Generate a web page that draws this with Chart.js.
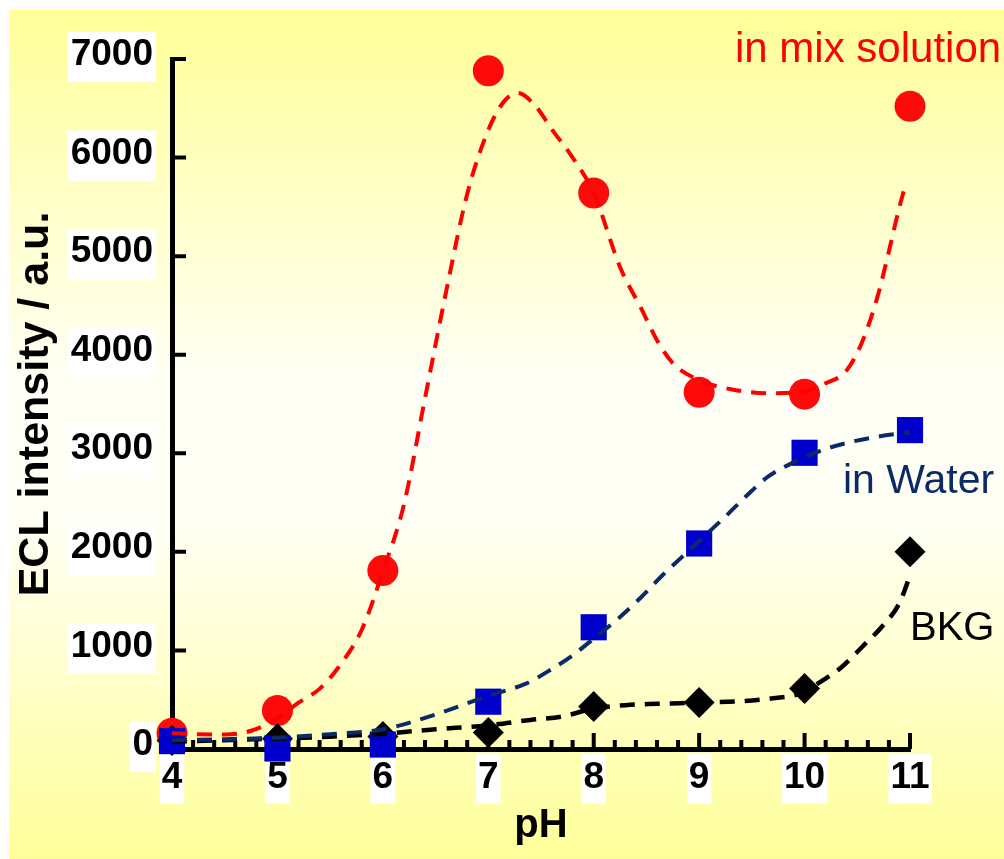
<!DOCTYPE html>
<html lang="en">
<head>
    <meta charset="UTF-8">
    <title>ECL intensity vs pH</title>
    <script src="https://cdn.jsdelivr.net/npm/chart.js"></script>
    <style>
        html, body {
            margin: 0;
            padding: 0;
            background: #ffffff;
        }
        .wrap {
            position: relative;
            width: 1004px;
            height: 859px;
        }
    </style>
</head>
<body>
    <div class="wrap"><canvas id="chart"></canvas></div>

    <script>
        // Measured points (ECL intensity, a.u.) at each pH
        const phValues = [4, 5, 6, 7, 8, 9, 10, 11];
        const mixValues = [160, 390, 1810, 6880, 5640, 3620, 3600, 6520];
        const waterValues = [80, 5, 45, 480, 1235, 2085, 3005, 3235];
        const bkgValues = [85, 105, 127, 167, 431, 472, 614, 2000];

        // Dashed fit curves
        const mixFitPh = [4.0, 4.25, 4.5, 4.75, 5.0, 5.2, 5.4, 5.6, 5.8, 6.0, 6.2, 6.4, 6.6, 6.8, 7.0, 7.15, 7.28, 7.45, 7.6, 7.8,
                          8.0, 8.25, 8.45, 8.6, 8.75, 9.0, 9.3, 9.65, 9.95, 10.2, 10.4, 10.55, 10.7, 10.8, 10.9, 10.96];
        const mixFitValues = [160, 150, 148, 185, 310, 470, 610, 860, 1210, 1800, 2480, 3560, 4640, 5630, 6280, 6570, 6655, 6520, 6290, 6000,
                              5640, 4888, 4470, 4147, 3914, 3741, 3650, 3609, 3619, 3711, 3843, 4140, 4620, 5050, 5500, 5731];

        const waterFitPh = [4.0, 4.5, 5.0, 5.5, 6.0, 6.5, 7.0, 7.35, 7.6, 7.8, 8.0, 8.25, 8.45, 8.65, 8.95, 9.25, 9.45, 9.65, 9.9, 10.15, 10.4, 10.7, 11.0];
        const waterFitValues = [90, 100, 115, 150, 200, 350, 540, 660, 810, 950, 1120, 1340, 1540, 1760, 2060, 2360, 2570, 2760, 2910, 3025, 3105, 3170, 3213];

        const bkgFitPh = [4.0, 4.5, 5.0, 5.5, 6.0, 6.5, 7.0, 7.4, 7.7, 8.0, 8.3, 8.6, 9.0, 9.4, 9.7, 9.95, 10.15, 10.35, 10.55, 10.75, 10.9, 11.0];
        const bkgFitValues = [75, 90, 105, 125, 155, 200, 240, 295, 330, 410, 445, 458, 470, 485, 515, 560, 680, 830, 1040, 1260, 1480, 1760];

        const FONT = '"Liberation Sans", Arial, Helvetica, sans-serif';

        function toPoints(xs, ys) {
            return xs.map((x, i) => ({ x: x, y: ys[i] }));
        }

        // yellow -> white -> yellow page background
        const paperBg = {
            id: 'paperBg',
            beforeDraw(chart) {
                const { ctx, width, height } = chart;
                ctx.save();
                ctx.fillStyle = '#ffffff';
                ctx.fillRect(0, 0, width, height);
                const g = ctx.createLinearGradient(0, 10, 0, height);
                g.addColorStop(0, '#ffff99');
                g.addColorStop(0.44, '#fffff6');
                g.addColorStop(0.6, '#fffff6');
                g.addColorStop(1, '#ffff99');
                ctx.fillStyle = g;
                ctx.fillRect(9, 10, width - 9, height - 10);
                ctx.restore();
            }
        };

        // inward tick marks, with minor ticks on the pH axis
        const inwardTicks = {
            id: 'inwardTicks',
            beforeDatasetsDraw(chart) {
                const { ctx, chartArea: area, scales: { x, y } } = chart;
                ctx.save();
                ctx.strokeStyle = '#000';
                ctx.lineWidth = 4;
                ctx.beginPath();
                y.ticks.forEach(t => {
                    const py = y.getPixelForValue(t.value);
                    ctx.moveTo(area.left, py);
                    ctx.lineTo(area.left + 14, py);
                });
                const steps = Math.round((x.max - x.min) / 0.2);
                for (let i = 0; i <= steps; i++) {
                    const px = x.getPixelForValue(x.min + i * 0.2);
                    const len = i % 5 === 0 ? 16 : 9;
                    ctx.moveTo(px, area.bottom);
                    ctx.lineTo(px, area.bottom - len);
                }
                ctx.stroke();
                ctx.restore();
            }
        };

        // series names written next to the curves
        const seriesNames = {
            id: 'seriesNames',
            afterDatasetsDraw(chart) {
                const ctx = chart.ctx;
                ctx.save();
                ctx.textBaseline = 'alphabetic';
                ctx.textAlign = 'left';
                ctx.font = '42px ' + FONT;
                ctx.fillStyle = '#ff0000';
                ctx.fillText('in mix solution', 735, 62);
                ctx.font = '41px ' + FONT;
                ctx.fillStyle = '#0c2a68';
                ctx.fillText('in Water', 843, 493);
                ctx.font = '40px ' + FONT;
                ctx.fillStyle = '#000000';
                ctx.fillText('BKG', 910, 640);
                ctx.restore();
            }
        };

        const fitLine = {
            showLine: true,
            pointRadius: 0,
            pointHoverRadius: 0,
            borderWidth: 4,
            borderDash: [15, 10],
            cubicInterpolationMode: 'monotone',
            clip: false
        };

        const chart = new Chart(document.getElementById('chart'), {
            type: 'scatter',
            data: {
                datasets: [
                    {
                        label: 'in mix solution',
                        data: toPoints(phValues, mixValues),
                        pointStyle: 'circle',
                        pointRadius: 15.5,
                        pointBackgroundColor: '#ff0a0a',
                        pointBorderWidth: 0,
                        clip: false,
                        order: 6
                    },
                    {
                        label: 'BKG',
                        data: toPoints(phValues, bkgValues),
                        pointStyle: 'rectRot',
                        pointRadius: 15.5,
                        pointBackgroundColor: '#000000',
                        pointBorderWidth: 0,
                        clip: false,
                        order: 5
                    },
                    {
                        label: 'in Water',
                        data: toPoints(phValues, waterValues),
                        pointStyle: 'rect',
                        pointRadius: 18.5,
                        pointBackgroundColor: '#0000cc',
                        pointBorderWidth: 0,
                        clip: false,
                        order: 4
                    },
                    Object.assign({
                        label: 'mix fit',
                        data: toPoints(mixFitPh, mixFitValues),
                        borderColor: '#ff0000',
                        order: 3
                    }, fitLine),
                    Object.assign({
                        label: 'BKG fit',
                        data: toPoints(bkgFitPh, bkgFitValues),
                        borderColor: '#000000',
                        order: 2
                    }, fitLine, { borderWidth: 4.5 }),
                    Object.assign({
                        label: 'water fit',
                        data: toPoints(waterFitPh, waterFitValues),
                        borderColor: '#0c2a68',
                        order: 1
                    }, fitLine)
                ]
            },
            options: {
                responsive: true,
                maintainAspectRatio: false,
                animation: false,
                layout: {
                    padding: { top: 59, right: 94, left: 0, bottom: 0 }
                },
                plugins: {
                    legend: { display: false },
                    tooltip: { enabled: false }
                },
                scales: {
                    x: {
                        type: 'linear',
                        min: 4,
                        max: 11,
                        afterFit: s => { s.height = 110; },
                        grid: { display: false, drawTicks: false },
                        border: { display: true, width: 5, color: '#000' },
                        ticks: {
                            stepSize: 1,
                            padding: 7,
                            color: '#000',
                            font: { family: FONT, size: 37, weight: 'bold' },
                            showLabelBackdrop: true,
                            backdropColor: '#ffffff',
                            backdropPadding: { top: 2, bottom: 3, left: 2, right: 2 },
                            callback: v => String(v)
                        },
                        title: {
                            display: true,
                            text: 'pH',
                            color: '#000',
                            font: { family: FONT, size: 40, weight: 'bold' },
                            padding: { top: 0, bottom: 9 }
                        }
                    },
                    y: {
                        min: 0,
                        max: 7000,
                        afterFit: s => { s.width = 172; },
                        grid: { display: false, drawTicks: false },
                        border: { display: true, width: 5, color: '#000' },
                        ticks: {
                            stepSize: 1000,
                            padding: 19,
                            labelOffset: -4,
                            color: '#000',
                            font: { family: FONT, size: 37, weight: 'bold' },
                            showLabelBackdrop: true,
                            backdropColor: '#ffffff',
                            backdropPadding: { top: 1, bottom: 5, left: 3, right: 3 },
                            callback: v => String(v)
                        },
                        title: {
                            display: true,
                            text: 'ECL intensity / a.u.',
                            color: '#000',
                            font: { family: FONT, size: 43, weight: 'bold' },
                            padding: { top: 10, bottom: 0 }
                        }
                    }
                }
            },
            plugins: [paperBg, inwardTicks, seriesNames]
        });
    </script>
</body>
</html>
